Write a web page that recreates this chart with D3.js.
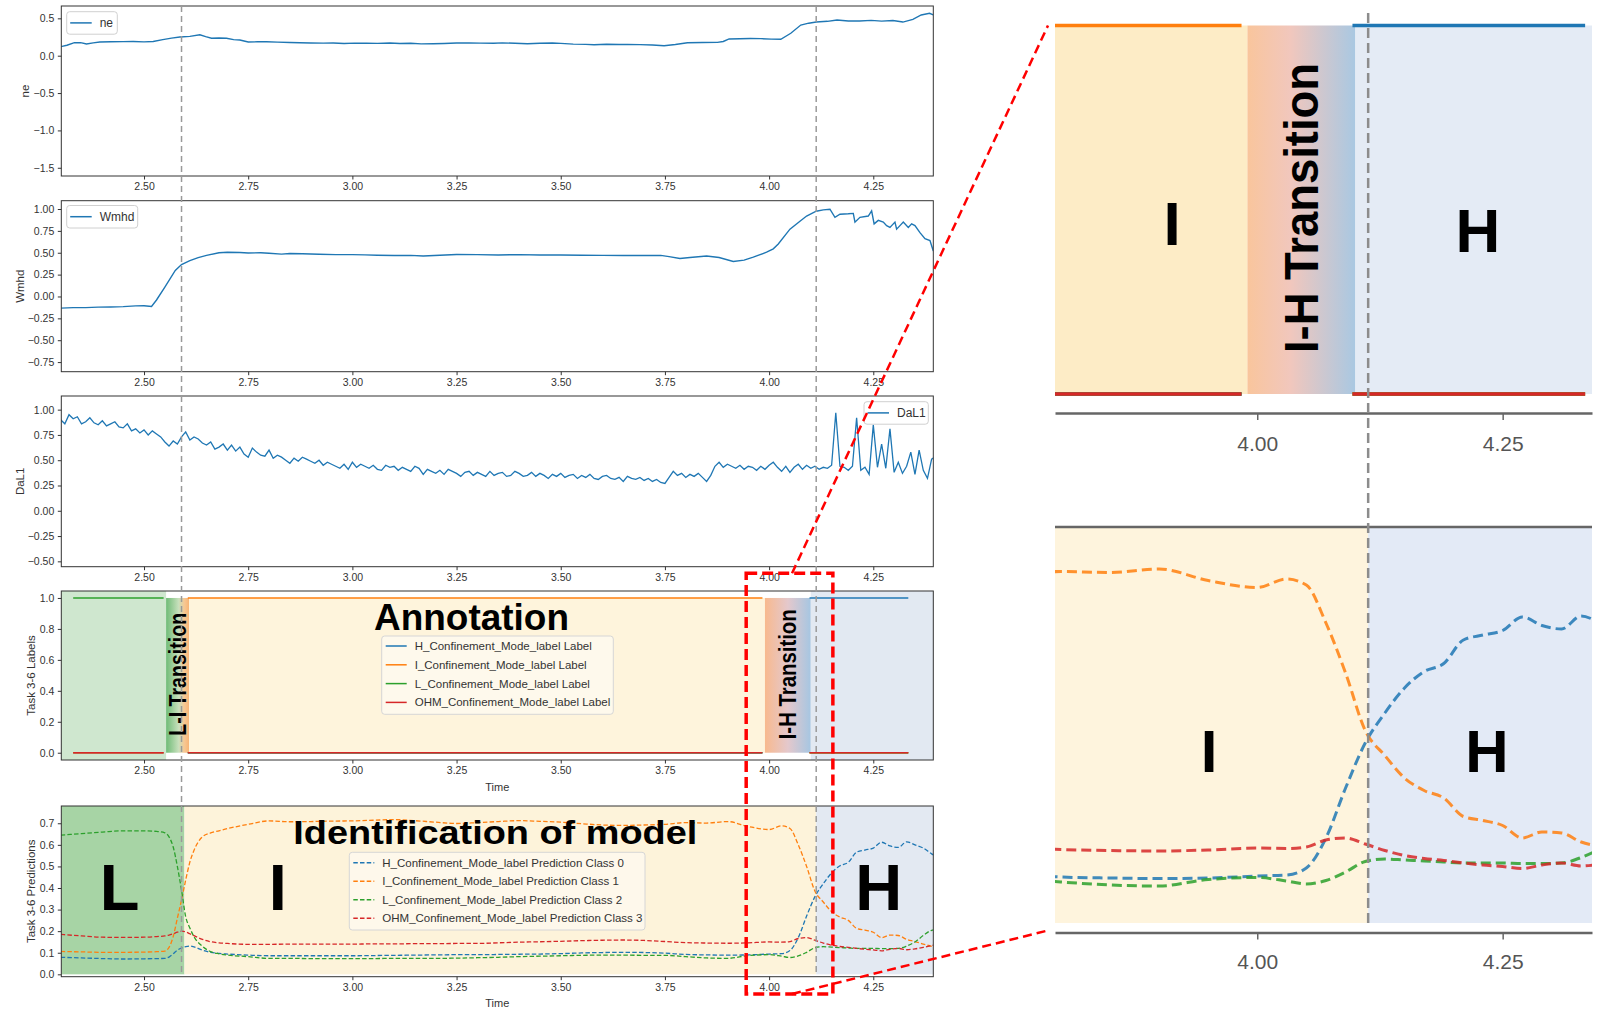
<!DOCTYPE html>
<html>
<head>
<meta charset="utf-8">
<script src="https://cdn.jsdelivr.net/npm/d3@7"></script>
<style>
body { margin: 0; background: #fff; }
text { font-family: "Liberation Sans", Arial, sans-serif; }
</style>
</head>
<body>
<script>
// ---------- data ----------
var xTicks = [2.50, 2.75, 3.00, 3.25, 3.50, 3.75, 4.00, 4.25];
var zoomTicks = [4.00, 4.25];
var modeChanges = [2.59, 4.113];          // grey dashed lines
var zoomWindow = [3.945, 4.153];          // red dashed box

var neSeries = [[2.30,0.12],[2.315,0.14],[2.333,0.174],[2.348,0.175],[2.362,0.157],[2.378,0.172],[2.394,0.183],
	[2.42,0.186],[2.45,0.188],[2.474,0.19],[2.50,0.185],[2.522,0.19],[2.545,0.215],[2.566,0.235],[2.586,0.25],
	[2.61,0.258],[2.634,0.28],[2.648,0.255],[2.662,0.233],[2.68,0.236],[2.698,0.233],[2.715,0.215],[2.73,0.21],
	[2.75,0.183],[2.772,0.186],[2.794,0.187],[2.82,0.182],[2.85,0.176],[2.874,0.174],[2.90,0.17],[2.93,0.168],
	[2.954,0.17],[2.98,0.164],[3.005,0.168],[3.034,0.166],[3.06,0.165],[3.09,0.169],[3.114,0.163],[3.14,0.167],
	[3.165,0.158],[3.194,0.16],[3.22,0.163],[3.25,0.17],[3.28,0.172],[3.307,0.168],[3.339,0.166],[3.36,0.172],
	[3.39,0.166],[3.42,0.16],[3.45,0.166],[3.48,0.17],[3.50,0.165],[3.53,0.155],[3.56,0.152],[3.58,0.147],
	[3.61,0.153],[3.64,0.15],[3.66,0.15],[3.69,0.148],[3.72,0.143],[3.748,0.134],[3.775,0.15],[3.804,0.174],
	[3.84,0.176],[3.876,0.178],[3.89,0.19],[3.904,0.224],[3.93,0.226],[3.955,0.23],[3.98,0.228],[4.005,0.222],
	[4.028,0.22],[4.052,0.30],[4.076,0.41],[4.095,0.435],[4.113,0.45],[4.14,0.46],[4.163,0.478],[4.19,0.465],
	[4.217,0.465],[4.245,0.472],[4.27,0.462],[4.297,0.47],[4.321,0.45],[4.345,0.487],[4.365,0.545],[4.385,0.567],[4.394,0.545]];

var wmhdSeries = [[2.30,-0.133],[2.33,-0.128],[2.36,-0.127],[2.39,-0.122],[2.42,-0.120],[2.45,-0.116],[2.48,-0.108],
	[2.50,-0.106],[2.518,-0.114],[2.53,-0.04],[2.55,0.106],[2.575,0.297],[2.59,0.365],[2.61,0.41],[2.63,0.445],
	[2.65,0.47],[2.68,0.50],[2.70,0.506],[2.73,0.502],[2.75,0.497],[2.78,0.50],[2.80,0.494],[2.83,0.484],
	[2.85,0.492],[2.88,0.488],[2.92,0.483],[2.96,0.478],[3.00,0.479],[3.03,0.476],[3.06,0.472],[3.10,0.468],
	[3.14,0.47],[3.17,0.462],[3.21,0.472],[3.25,0.48],[3.30,0.478],[3.35,0.475],[3.40,0.478],[3.45,0.474],
	[3.50,0.475],[3.55,0.472],[3.60,0.47],[3.65,0.468],[3.70,0.468],[3.74,0.47],[3.76,0.455],[3.786,0.435],
	[3.81,0.445],[3.85,0.462],[3.88,0.445],[3.914,0.40],[3.94,0.415],[3.962,0.45],[3.994,0.506],[4.01,0.545],
	[4.022,0.60],[4.05,0.77],[4.074,0.86],[4.09,0.92],[4.113,0.975],[4.13,0.99],[4.146,0.998],[4.158,0.905],
	[4.17,0.94],[4.19,0.945],[4.202,0.95],[4.206,0.85],[4.218,0.905],[4.238,0.92],[4.246,0.98],[4.252,0.83],
	[4.262,0.87],[4.274,0.85],[4.282,0.81],[4.29,0.79],[4.302,0.85],[4.306,0.77],[4.314,0.81],[4.322,0.85],
	[4.334,0.79],[4.342,0.83],[4.35,0.81],[4.362,0.73],[4.374,0.66],[4.386,0.64],[4.394,0.52]];

// DaL1 sampled every 0.01 from 2.30
var dalStart = 2.30, dalStep = 0.01;
var dalValues = [
	0.90,0.86,0.95,0.91,0.93,0.86,0.88,0.92,0.87,0.85,
	0.89,0.84,0.86,0.88,0.83,0.82,0.86,0.79,0.81,0.77,
	0.80,0.75,0.79,0.76,0.73,0.68,0.64,0.69,0.66,0.73,
	0.78,0.70,0.73,0.71,0.67,0.65,0.68,0.61,0.63,0.66,
	0.60,0.65,0.59,0.63,0.56,0.53,0.62,0.58,0.55,0.54,
	0.60,0.52,0.55,0.53,0.50,0.47,0.52,0.49,0.53,0.51,
	0.49,0.47,0.50,0.45,0.48,0.46,0.44,0.42,0.46,0.41,
	0.48,0.43,0.46,0.44,0.42,0.45,0.41,0.40,0.45,0.43,
	0.44,0.40,0.43,0.41,0.39,0.44,0.42,0.36,0.41,0.39,
	0.37,0.40,0.36,0.41,0.39,0.37,0.34,0.38,0.39,0.35,
	0.38,0.36,0.34,0.39,0.35,0.37,0.38,0.34,0.35,0.39,
	0.37,0.34,0.35,0.38,0.34,0.37,0.35,0.32,0.36,0.34,
	0.37,0.33,0.35,0.36,0.32,0.35,0.33,0.36,0.32,0.31,
	0.34,0.35,0.32,0.31,0.33,0.29,0.34,0.32,0.31,0.33,
	0.30,0.32,0.29,0.31,0.28,0.27,0.33,0.39,0.35,0.37,
	0.33,0.36,0.34,0.37,0.33,0.29,0.35,0.44,0.48,0.43,
	0.46,0.44,0.42,0.45,0.41,0.44,0.43,0.40,0.44,0.41,
	0.45,0.48,0.43,0.39,0.44,0.38,0.43,0.46,0.41,0.45,
	0.42,0.44,0.41,0.43,0.42,0.45,0.97,0.44,0.43,0.40,
	0.44,0.92,0.40,0.43,0.36,0.85,0.43,0.66,0.42,0.81,
	0.38,0.48,0.37,0.44,0.58,0.36,0.60,0.40,0.32,0.51,
	0.54];

// annotation labels
var modes = ["H", "I", "L", "OHM"];
var labelNames = ["H_Confinement_Mode_label Label", "I_Confinement_Mode_label Label",
	"L_Confinement_Mode_label Label", "OHM_Confinement_Mode_label Label"];
var labelSegments = [
	{mode: "L", from: 2.33, to: 2.547},
	{mode: "I", from: 2.605, to: 3.984},
	{mode: "H", from: 4.097, to: 4.334}];
var annRegions = [
	{kind: "L", from: 2.30, to: 2.553},
	{kind: "LI", from: 2.553, to: 2.608},
	{kind: "I", from: 2.608, to: 3.99},
	{kind: "IH", from: 3.99, to: 4.10},
	{kind: "H", from: 4.10, to: 4.40}];

// model predictions
var predNames = ["H_Confinement_Mode_label Prediction Class 0", "I_Confinement_Mode_label Prediction Class 1",
	"L_Confinement_Mode_label Prediction Class 2", "OHM_Confinement_Mode_label Prediction Class 3"];
var predTime = [2.30,2.35,2.40,2.45,2.50,2.53,2.55,2.56,2.57,2.58,2.59,2.60,2.61,2.62,2.64,2.66,2.68,2.70,
	2.75,2.80,2.85,2.90,2.95,3.00,3.05,3.10,3.15,3.20,3.25,3.30,3.35,3.40,3.45,3.50,3.55,3.60,3.65,3.70,3.75,
	3.80,3.85,3.90,3.95,4.00,4.03,4.05,4.07,4.09,4.11,4.13,4.15,4.17,4.19,4.21,4.23,4.25,4.27,4.29,4.31,4.33,
	4.35,4.37,4.39,4.395];
var predH = [.079,.076,.073,.071,.072,.073,.074,.080,.095,.112,.122,.128,.131,.127,.112,.102,.097,.094,
	.089,.086,.086,.086,.086,.086,.087,.088,.089,.090,.091,.091,.092,.093,.094,.096,.099,.101,.102,.101,.098,
	.092,.090,.089,.090,.094,.096,.110,.170,.270,.360,.420,.470,.503,.519,.566,.576,.585,.612,.595,.588,.614,
	.600,.585,.558,.552];
var predI = [.106,.104,.102,.102,.103,.105,.108,.125,.175,.26,.344,.437,.52,.575,.637,.655,.665,.675,
	.695,.711,.707,.708,.710,.711,.714,.717,.712,.705,.699,.703,.708,.712,.709,.705,.698,.692,.690,.692,.695,
	.703,.701,.708,.685,.671,.688,.676,.600,.500,.385,.335,.290,.265,.250,.213,.205,.195,.170,.182,.180,.162,
	.152,.140,.130,.128];
var predL = [.645,.652,.659,.665,.665,.662,.656,.637,.590,.500,.390,.267,.215,.174,.130,.105,.095,.089,
	.082,.074,.074,.073,.073,.073,.073,.074,.074,.074,.075,.077,.079,.082,.084,.086,.088,.089,.089,.088,.088,
	.082,.076,.074,.087,.091,.084,.078,.085,.102,.123,.128,.126,.124,.122,.120,.120,.120,.119,.119,.120,.131,
	.150,.180,.204,.206];
var predOHM = [.185,.178,.172,.171,.172,.175,.178,.182,.188,.195,.200,.197,.188,.179,.162,.151,.146,.143,
	.139,.139,.140,.140,.140,.140,.141,.141,.142,.142,.143,.143,.146,.149,.151,.153,.156,.158,.159,.157,.152,
	.147,.145,.144,.146,.150,.149,.152,.166,.170,.158,.145,.135,.129,.125,.120,.116,.113,.109,.116,.120,.114,
	.118,.125,.133,.135];
var predRegions = [
	{kind: "L", from: 2.30, to: 2.597},
	{kind: "I", from: 2.597, to: 4.113},
	{kind: "H", from: 4.113, to: 4.40}];

// ---------- styles ----------
var colors = {H: "#1f77b4", I: "#ff7f0e", L: "#2ca02c", OHM: "#d62728"};
var annFill = {L: "#cfe7cf", I: "#fef4dc", H: "#e2e9f2", LI: "url(#gradLI)", IH: "url(#gradIH)"};
var predFill = {L: "#a7d4a5", I: "#fdf3da", H: "#e3e9f2"};
var zoomTopFill = {I: "#fdecc6", H: "#e4ebf5", IH: "url(#gradIH2)"};
var zoomBotFill = {I: "#fef4dd", H: "#e3eaf6"};

var W = 1598, H = 1009;
var plotLeft = 61.3, plotRight = 933.3;

var svg = d3.select("body").append("svg")
	.attr("width", W)
	.attr("height", H);

var defs = svg.append("defs");
function gradient(id, stops) {
	var g = defs.append("linearGradient").attr("id", id)
		.attr("x1", "0%").attr("x2", "100%").attr("y1", "0%").attr("y2", "0%");
	stops.forEach(function(s) {
		g.append("stop").attr("offset", s[0]).attr("stop-color", s[1]);
	});
}
gradient("gradLI", [["0%", "#6fbb77"], ["55%", "#c8e0bd"], ["80%", "#f7c792"], ["100%", "#f8b577"]]);
gradient("gradIH", [["0%", "#f8b98e"], ["50%", "#e4c8cc"], ["100%", "#a6c6e2"]]);
gradient("gradIH2", [["0%", "#f9c59c"], ["40%", "#f1c7bd"], ["100%", "#a9c8e2"]]);

function clip(id, x0, y0, w, h) {
	defs.append("clipPath").attr("id", id)
		.append("rect").attr("x", x0).attr("y", y0).attr("width", w).attr("height", h);
}

// main time scale (shared by the five stacked panels)
var x = d3.scaleLinear().domain([2.3015, 4.394]).range([plotLeft, plotRight]);

function styleAxis(g, size, color) {
	g.select(".domain").remove();
	g.selectAll("text").attr("font-size", size).attr("fill", color)
		.attr("font-family", "'Liberation Sans', Arial, sans-serif");
	g.selectAll("line").attr("stroke", "#333");
}

function panel(id, top, bottom, domain, yTicks, fmt, yLabel, labelX) {
	var y = d3.scaleLinear().domain(domain).range([bottom, top]);
	clip(id, plotLeft, top, plotRight - plotLeft, bottom - top);
	var bg = svg.append("g");
	var lines = svg.append("g").attr("clip-path", "url(#" + id + ")");
	var over = svg.append("g");

	over.append("rect")
		.attr("x", plotLeft).attr("y", top)
		.attr("width", plotRight - plotLeft).attr("height", bottom - top)
		.attr("fill", "none").attr("stroke", "#333").attr("stroke-width", 1);

	over.append("g")
		.attr("transform", "translate(0," + bottom + ")")
		.call(d3.axisBottom(x).tickValues(xTicks).tickFormat(d3.format(".2f"))
			.tickSize(3.5).tickPadding(3.5).tickSizeOuter(0))
		.call(function(g) { styleAxis(g, 10.5, "#333"); });

	over.append("g")
		.attr("transform", "translate(" + plotLeft + ",0)")
		.call(d3.axisLeft(y).tickValues(yTicks).tickFormat(d3.format(fmt))
			.tickSize(3.5).tickPadding(3.5).tickSizeOuter(0))
		.call(function(g) { styleAxis(g, 10.5, "#333"); });

	over.append("text")
		.attr("transform", "translate(" + labelX + "," + ((top + bottom) / 2) + ") rotate(-90)")
		.attr("text-anchor", "middle").attr("dy", "0.35em")
		.attr("font-size", 11.5).attr("fill", "#333")
		.text(yLabel);

	return {y: y, bg: bg, lines: lines, over: over, top: top, bottom: bottom};
}

function smallLegend(g, left, top, w, name) {
	g.append("rect").attr("x", left).attr("y", top).attr("width", w).attr("height", 22.5)
		.attr("rx", 3).attr("fill", "#fff").attr("fill-opacity", 0.8).attr("stroke", "#d0d0d0");
	g.append("line").attr("x1", left + 3.5).attr("x2", left + 25).attr("y1", top + 11.2).attr("y2", top + 11.2)
		.attr("stroke", colors.H).attr("stroke-width", 1.5);
	g.append("text").attr("x", left + 33).attr("y", top + 11.2).attr("dy", "0.35em")
		.attr("font-size", 12).attr("fill", "#333").text(name);
}

function bigLegend(g, left, top, w, h, names, dashed, firstY, step) {
	g.append("rect").attr("x", left).attr("y", top).attr("width", w).attr("height", h)
		.attr("rx", 3).attr("fill", "#fff").attr("fill-opacity", 0.45).attr("stroke", "#d6d6d6");
	names.forEach(function(n, i) {
		var yy = firstY + i * step;
		g.append("line").attr("x1", left + 4).attr("x2", left + 25).attr("y1", yy).attr("y2", yy)
			.attr("stroke", colors[modes[i]]).attr("stroke-width", 1.5)
			.attr("stroke-dasharray", dashed ? "4.5,2.2" : null);
		g.append("text").attr("x", left + 33).attr("y", yy).attr("dy", "0.35em")
			.attr("font-size", 11.5).attr("fill", "#333").text(n);
	});
}

var simpleLine = function(xs, ys) {
	return d3.line().x(function(d) { return xs(d[0]); }).y(function(d) { return ys(d[1]); });
};

// ---------- ne ----------
var pNe = panel("cNe", 6, 176, [-1.61, 0.665], [0.5, 0.0, -0.5, -1.0, -1.5], ".1f", "ne", 25);
pNe.lines.append("path").datum(neSeries)
	.attr("d", simpleLine(x, pNe.y)).attr("fill", "none").attr("stroke", colors.H).attr("stroke-width", 1.4);
smallLegend(pNe.over, 66.7, 11.7, 50.6, "ne");

// ---------- Wmhd ----------
var pW = panel("cW", 200.7, 371.7, [-0.86, 1.095], [1.0, 0.75, 0.5, 0.25, 0, -0.25, -0.5, -0.75], ".2f", "Wmhd", 20);
pW.lines.append("path").datum(wmhdSeries)
	.attr("d", simpleLine(x, pW.y)).attr("fill", "none").attr("stroke", colors.H).attr("stroke-width", 1.4);
smallLegend(pW.over, 66.7, 205.5, 71, "Wmhd");

// ---------- DaL1 ----------
var pD = panel("cD", 396, 566.7, [-0.553, 1.135], [1.0, 0.75, 0.5, 0.25, 0, -0.25, -0.5], ".2f", "DaL1", 20);
pD.lines.append("path").datum(dalValues)
	.attr("d", d3.line().x(function(d, i) { return x(dalStart + i * dalStep); }).y(function(d) { return pD.y(d); }))
	.attr("fill", "none").attr("stroke", colors.H).attr("stroke-width", 1.3);
smallLegend(pD.over, 864, 401.7, 64.3, "DaL1");

// ---------- annotation labels ----------
var pA = panel("cA", 591, 760, [-0.047, 1.045], [0, 0.2, 0.4, 0.6, 0.8, 1.0], ".1f", "Task 3-6 Labels", 30.5);
annRegions.forEach(function(r) {
	var full = (r.kind === "L" || r.kind === "H");
	var x0 = Math.max(x(r.from), plotLeft), x1 = Math.min(x(r.to), plotRight);
	pA.bg.append("rect")
		.attr("x", x0).attr("width", x1 - x0)
		.attr("y", full ? pA.top : pA.y(1)).attr("height", full ? pA.bottom - pA.top : pA.y(0) - pA.y(1))
		.attr("fill", annFill[r.kind]);
});
modes.forEach(function(m) {
	labelSegments.forEach(function(s) {
		var v = s.mode === m ? 1 : 0;
		pA.lines.append("path").datum([[s.from, v], [s.to, v]])
			.attr("d", simpleLine(x, pA.y)).attr("stroke", colors[m]).attr("stroke-width", 1.5);
	});
});
pA.over.append("text").attr("x", 374).attr("y", 630)
	.attr("font-family", "Lato, 'DejaVu Sans', sans-serif").attr("font-weight", 800).attr("font-size", 37.5)
	.attr("textLength", 195).attr("lengthAdjust", "spacingAndGlyphs").attr("fill", "#000").text("Annotation");
bigLegend(pA.over, 381.7, 636, 231.6, 78.3, labelNames, false, 646, 18.8);

function sideText(g, cx, cy, len, size, txt) {
	g.append("text")
		.attr("transform", "translate(" + cx + "," + cy + ") rotate(-90)")
		.attr("text-anchor", "middle").attr("dominant-baseline", "central")
		.attr("font-family", "Lato, 'DejaVu Sans', sans-serif").attr("font-weight", 800)
		.attr("font-size", size).attr("textLength", len).attr("lengthAdjust", "spacingAndGlyphs")
		.attr("fill", "#000").text(txt);
}
sideText(pA.over, 178.3, 674.3, 123, 23, "L-I Transition");
sideText(pA.over, 788.3, 674.3, 130, 23, "I-H Transition");
pA.over.append("text").attr("x", (plotLeft + plotRight) / 2).attr("y", 791)
	.attr("text-anchor", "middle").attr("font-size", 11).attr("fill", "#333").text("Time");

// ---------- predictions ----------
var pP = panel("cP", 806, 976.7, [-0.011, 0.78], [0, 0.1, 0.2, 0.3, 0.4, 0.5, 0.6, 0.7], ".1f", "Task 3-6 Predictions", 30.5);
predRegions.forEach(function(r) {
	var x0 = Math.max(x(r.from), plotLeft), x1 = Math.min(x(r.to), plotRight);
	pP.bg.append("rect").attr("x", x0).attr("width", x1 - x0)
		.attr("y", pP.top).attr("height", pP.y(0) - pP.top)
		.attr("fill", predFill[r.kind]);
});
var predSeries = [predH, predI, predL, predOHM];
function predLine(xs, ys) {
	return d3.line().curve(d3.curveMonotoneX)
		.x(function(d, i) { return xs(predTime[i]); }).y(function(d) { return ys(d); });
}
predSeries.forEach(function(s, k) {
	pP.lines.append("path").datum(s).attr("d", predLine(x, pP.y))
		.attr("fill", "none").attr("stroke", colors[modes[k]]).attr("stroke-width", 1.3)
		.attr("stroke-dasharray", "4.5,2.2");
});
pP.over.append("text").attr("x", 293.3).attr("y", 844)
	.attr("font-family", "Lato, 'DejaVu Sans', sans-serif").attr("font-weight", 800).attr("font-size", 33.5)
	.attr("textLength", 404).attr("lengthAdjust", "spacingAndGlyphs").attr("fill", "#000").text("Identification of model");
bigLegend(pP.over, 349.3, 852.3, 295.7, 77.7, predNames, true, 862.7, 18.5);
[["L", 119.5], ["I", 277.7], ["H", 878.8]].forEach(function(d) {
	pP.over.append("text").attr("x", d[1]).attr("y", 909.5).attr("text-anchor", "middle")
		.attr("font-weight", "bold").attr("font-size", 65).attr("fill", "#000").text(d[0]);
});
pP.over.append("text").attr("x", (plotLeft + plotRight) / 2).attr("y", 1007)
	.attr("text-anchor", "middle").attr("font-size", 11).attr("fill", "#333").text("Time");

// grey dashed mode-change lines through the whole stack
svg.selectAll(".modeLine").data(modeChanges).enter().append("line")
	.attr("x1", function(d) { return x(d); }).attr("x2", function(d) { return x(d); })
	.attr("y1", 6).attr("y2", 976)
	.attr("stroke", "#9a9a9a").attr("stroke-width", 1.5).attr("stroke-dasharray", "6,4");

// ---------- zoomed panels on the right ----------
var rx = d3.scaleLinear().domain([3.794, 4.341]).range([1055, 1592]);
var ryTop = d3.scaleLinear().domain([0, 1]).range([394, 25.5]);
var ryBot = d3.scaleLinear().domain([-0.019, 0.792]).range([932.5, 527]);
clip("cZT", 1055, 0, 537, 413);
clip("cZB", 1055, 527, 537, 406);

var zt = svg.append("g");
var ztClip = zt.append("g").attr("clip-path", "url(#cZT)");
annRegions.forEach(function(r) {
	if (!zoomTopFill[r.kind]) return;
	ztClip.append("rect").attr("x", rx(r.from)).attr("width", rx(r.to) - rx(r.from))
		.attr("y", ryTop(1)).attr("height", ryTop(0) - ryTop(1))
		.attr("fill", zoomTopFill[r.kind]);
});
modes.forEach(function(m) {
	labelSegments.forEach(function(s) {
		var v = s.mode === m ? 1 : 0;
		ztClip.append("path").datum([[s.from, v], [s.to, v]])
			.attr("d", simpleLine(rx, ryTop)).attr("stroke", colors[m]).attr("stroke-width", 3.5);
	});
});
zt.append("g").attr("transform", "translate(0,413)")
	.call(d3.axisBottom(rx).tickValues(zoomTicks).tickFormat(d3.format(".2f"))
		.tickSize(7).tickPadding(16).tickSizeOuter(0))
	.call(function(g) {
		g.select(".domain").attr("stroke", "#666").attr("stroke-width", 2.5);
		g.selectAll("line").attr("stroke", "#666").attr("stroke-width", 1.5);
		g.selectAll("text").attr("font-size", 21).attr("fill", "#555")
			.attr("font-family", "'Liberation Sans', Arial, sans-serif");
	});
sideText(zt, 1301, 208, 290, 48, "I-H Transition");
zt.append("text").attr("x", 1172).attr("y", 245).attr("text-anchor", "middle")
	.attr("font-weight", "bold").attr("font-size", 62).text("I");
zt.append("text").attr("x", 1478).attr("y", 252).attr("text-anchor", "middle")
	.attr("font-weight", "bold").attr("font-size", 62).text("H");

var zb = svg.append("g");
var zbClip = zb.append("g").attr("clip-path", "url(#cZB)");
predRegions.forEach(function(r) {
	zbClip.append("rect").attr("x", rx(r.from)).attr("width", rx(r.to) - rx(r.from))
		.attr("y", 527).attr("height", ryBot(0) - 527)
		.attr("fill", zoomBotFill[r.kind]);
});
predSeries.forEach(function(s, k) {
	zbClip.append("path").datum(s).attr("d", predLine(rx, ryBot))
		.attr("fill", "none").attr("stroke", colors[modes[k]]).attr("stroke-width", 3)
		.attr("stroke-dasharray", "10,5").attr("stroke-opacity", 0.85);
});
zb.append("line").attr("x1", 1055).attr("x2", 1592).attr("y1", 527).attr("y2", 527)
	.attr("stroke", "#666").attr("stroke-width", 2.5);
zb.append("g").attr("transform", "translate(0,932.5)")
	.call(d3.axisBottom(rx).tickValues(zoomTicks).tickFormat(d3.format(".2f"))
		.tickSize(7).tickPadding(15).tickSizeOuter(0))
	.call(function(g) {
		g.select(".domain").attr("stroke", "#666").attr("stroke-width", 2.5);
		g.selectAll("line").attr("stroke", "#666").attr("stroke-width", 1.5);
		g.selectAll("text").attr("font-size", 21).attr("fill", "#555")
			.attr("font-family", "'Liberation Sans', Arial, sans-serif");
	});
zb.append("text").attr("x", 1209).attr("y", 772).attr("text-anchor", "middle")
	.attr("font-weight", "bold").attr("font-size", 60).text("I");
zb.append("text").attr("x", 1487).attr("y", 772).attr("text-anchor", "middle")
	.attr("font-weight", "bold").attr("font-size", 60).text("H");

// dashed mode-change line in the zoomed view
svg.append("line")
	.attr("x1", rx(modeChanges[1])).attr("x2", rx(modeChanges[1]))
	.attr("y1", 13).attr("y2", 925)
	.attr("stroke", "#8c8c8c").attr("stroke-width", 2.5).attr("stroke-dasharray", "10,5");

// ---------- red zoom box and connectors ----------
var boxTop = 573.3, boxBottom = 994;
svg.append("rect")
	.attr("x", x(zoomWindow[0])).attr("y", boxTop)
	.attr("width", x(zoomWindow[1]) - x(zoomWindow[0])).attr("height", boxBottom - boxTop)
	.attr("fill", "none").attr("stroke", "#ff0000").attr("stroke-width", 3.5).attr("stroke-dasharray", "11,5");
var anchorX = x(4.055);
svg.append("line").attr("x1", anchorX).attr("y1", boxTop).attr("x2", 1048).attr("y2", ryTop(1))
	.attr("stroke", "#ff0000").attr("stroke-width", 2.5).attr("stroke-dasharray", "9,5");
svg.append("line").attr("x1", anchorX).attr("y1", boxBottom).attr("x2", 1050).attr("y2", 930)
	.attr("stroke", "#ff0000").attr("stroke-width", 2.5).attr("stroke-dasharray", "9,5");
</script>
</body>
</html>
